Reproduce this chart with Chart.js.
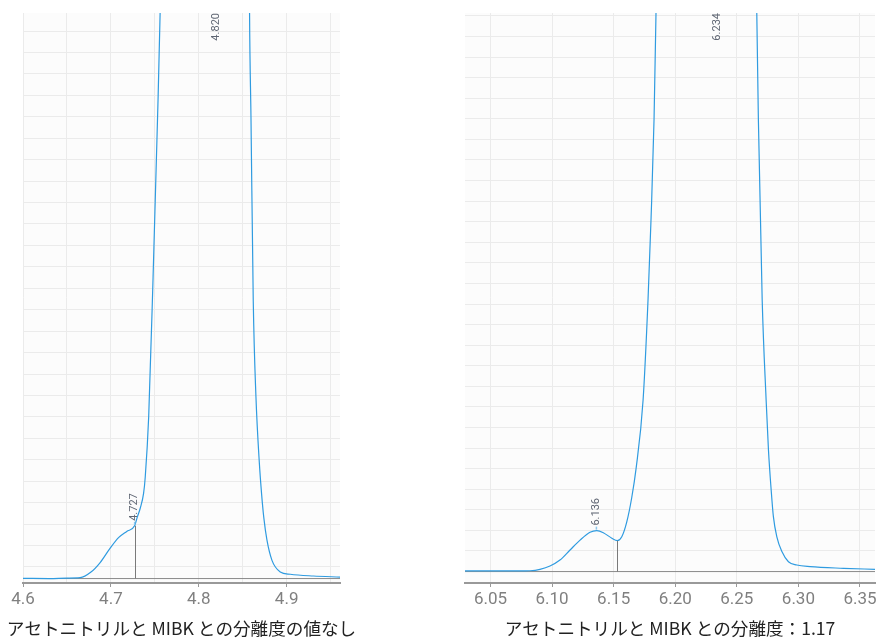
<!DOCTYPE html>
<html>
<head>
<meta charset="utf-8">
<script src="https://cdn.jsdelivr.net/npm/chart.js@4.4.1/dist/chart.umd.min.js"></script>
<style>
  html, body { margin: 0; padding: 0; background: #fff; overflow: hidden; }
  #wrap { position: relative; width: 879px; height: 639px; overflow: hidden; }
  #leftChart { position: absolute; left: 0; top: 0; }
  #rightChart { position: absolute; left: 430px; top: 0; }
</style>
</head>
<body>
<div id="wrap">
  <canvas id="leftChart" width="370" height="639"></canvas>
  <canvas id="rightChart" width="470" height="639"></canvas>
</div>
<script>
// --- left chromatogram (no resolution value) ---
const leftTitle = "アセトニトリルと MIBK との分離度の値なし";
const leftTimes = [4.600, 4.630, 4.650, 4.665, 4.677, 4.688, 4.699, 4.709, 4.718, 4.727,
  4.7296, 4.7334, 4.7372, 4.7391, 4.743, 4.748, 4.753, 4.756, 4.760, 4.770,
  4.780, 4.790, 4.800, 4.810, 4.820, 4.830, 4.840, 4.850, 4.855, 4.8578,
  4.8594, 4.862, 4.865, 4.869, 4.8715, 4.874, 4.8776, 4.8833, 4.8927, 4.9041,
  4.9303, 4.961];
const leftSignal = [4.7, 4.6, 4.8, 5.0, 7.5, 12.2, 18.7, 23.8, 26.6, 29.2,
  32.7, 37.4, 44.3, 52, 80, 145, 218, 268, 380, 700,
  1100, 1450, 1700, 1850, 1900, 1850, 1600, 1000, 500, 268,
  220, 134, 90, 58, 44, 33, 22.5, 13.1, 7.7, 6.6,
  5.8, 5.3];
const leftBaseline = 4.6;
const leftPeakTimes = [4.727, 4.820];
const leftPeakHeights = [29.2, 1900];
const leftDropTimes = [4.727];
const leftDropHeights = [29.2];
const leftXRange = [4.6, 4.9607];
const leftYRange = [2.53, 268.4];

// --- right chromatogram (resolution 1.17) ---
const rightTitle = "アセトニトリルと MIBK との分離度：1.17";
const rightTimes = [6.0293, 6.0496, 6.074, 6.0821, 6.0902, 6.0983, 6.1064, 6.1146, 6.1227, 6.1308,
  6.1363, 6.1416, 6.1485, 6.153, 6.1566, 6.1606, 6.1647, 6.1682, 6.1739, 6.1779,
  6.1804, 6.1828, 6.1844, 6.190, 6.200, 6.210, 6.220, 6.234, 6.245, 6.255,
  6.262, 6.2662, 6.2675, 6.2706, 6.2738, 6.2757, 6.2779, 6.2797, 6.2825, 6.2866,
  6.2919, 6.2987, 6.3095, 6.3366, 6.3622];
const rightSignal = [0.3, 0.3, 0.3, 0.4, 1.1, 2.7, 5.6, 10.5, 15.3, 19.1,
  19.9, 18.9, 16.2, 15.0, 16.9, 24, 36, 50, 83.4, 132,
  172, 219.9, 272, 400, 800, 1200, 1500, 1650, 1550, 1100,
  500, 272, 219.9, 132, 83.4, 59.1, 39.6, 26.7, 16.9, 9.7,
  4.8, 3.2, 2.4, 1.6, 1.1];
const rightBaseline = 0;
const rightPeakTimes = [6.136, 6.234];
const rightPeakHeights = [19.9, 1650];
const rightDropTimes = [6.153];
const rightDropHeights = [15.0];
const rightXRange = [6.0293, 6.3622];
const rightYRange = [-5.55, 271.4];

const LINE_COLOR = "#2f9be0";
const GRID_COLOR = "#ebebeb";

function isMultiple(v, step) {
  var r = v / step;
  return Math.abs(r - Math.round(r)) < 1e-6;
}

const areaFillPlugin = {
  id: "areaFill",
  beforeDraw: function (chart) {
    const a = chart.chartArea;
    const ctx = chart.ctx;
    ctx.save();
    ctx.fillStyle = "#fcfcfc";
    ctx.fillRect(a.left, a.top, a.right - a.left, a.bottom - a.top);
    ctx.restore();
  },
};

// caption under the axis; drawn by hand so it is not squeezed to the plot width
const captionPlugin = {
  id: "caption",
  afterDraw: function (chart, args, opts) {
    const a = chart.chartArea;
    const ctx = chart.ctx;
    ctx.save();
    ctx.font = "17.6px 'Noto Sans CJK JP'";
    ctx.fillStyle = "#222";
    ctx.textAlign = "center";
    ctx.textBaseline = "middle";
    ctx.fillText(opts.text, (a.left + a.right) / 2, chart.height - 10.5);
    ctx.restore();
  },
};

const peakPlugin = {
  id: "peakMarks",
  afterDatasetsDraw: function (chart, args, opts) {
    const ctx = chart.ctx;
    const xs = chart.scales.x;
    const ys = chart.scales.y;
    const a = chart.chartArea;

    // drop lines from the curve down to the baseline
    ctx.save();
    ctx.strokeStyle = "#7a7a7a";
    ctx.lineWidth = 1;
    opts.dropTimes.forEach(function (t, i) {
      const px = Math.round(xs.getPixelForValue(t)) + 0.5;
      ctx.beginPath();
      ctx.moveTo(px, ys.getPixelForValue(opts.dropHeights[i]));
      ctx.lineTo(px, ys.getPixelForValue(opts.baseline));
      ctx.stroke();
    });
    ctx.restore();

    // rotated retention time labels
    ctx.save();
    ctx.font = "11px Roboto";
    ctx.textAlign = "left";
    ctx.textBaseline = "middle";
    opts.peakTimes.forEach(function (t, i) {
      const label = t.toFixed(3);
      const w = ctx.measureText(label).width;
      const px = xs.getPixelForValue(t);
      const apex = ys.getPixelForValue(opts.peakHeights[i]);
      let start = apex - 5;
      if (start - w < a.top) start = a.top + w;

      if (apex > a.top) {
        ctx.strokeStyle = "#8cc8ee";
        ctx.lineWidth = 1.5;
        ctx.beginPath();
        ctx.moveTo(px, apex - 1);
        ctx.lineTo(px, apex - 4);
        ctx.stroke();
      }

      ctx.save();
      ctx.translate(px, start);
      ctx.rotate(-Math.PI / 2);
      ctx.fillStyle = "#5f6673";
      ctx.fillText(label, 0, 0);
      ctx.restore();
    });
    ctx.restore();
  },
};

function toPoints(xs, ys) {
  return xs.map(function (x, i) {
    return { x: x, y: ys[i] };
  });
}

function makeChart(canvasId, cfg) {
  const canvas = document.getElementById(canvasId);
  return new Chart(canvas.getContext("2d"), {
    type: "line",
    data: {
      datasets: [
        {
          data: toPoints(cfg.times, cfg.signal),
          borderColor: LINE_COLOR,
          borderWidth: 1.2,
          pointRadius: 0,
          fill: false,
          cubicInterpolationMode: "monotone",
        },
        {
          data: [
            { x: cfg.xRange[0], y: cfg.baseline },
            { x: cfg.xRange[1], y: cfg.baseline },
          ],
          borderColor: "#8a8a8a",
          borderWidth: 1,
          pointRadius: 0,
          fill: false,
        },
      ],
    },
    plugins: [areaFillPlugin, peakPlugin, captionPlugin],
    options: {
      responsive: false,
      animation: false,
      layout: { padding: cfg.padding },
      plugins: {
        legend: { display: false },
        tooltip: { enabled: false },
        caption: { text: cfg.title },
        peakMarks: {
          peakTimes: cfg.peakTimes,
          peakHeights: cfg.peakHeights,
          dropTimes: cfg.dropTimes,
          dropHeights: cfg.dropHeights,
          baseline: cfg.baseline,
        },
      },
      scales: {
        x: {
          type: "linear",
          min: cfg.xRange[0],
          max: cfg.xRange[1],
          afterBuildTicks: function (axis) {
            axis.ticks = axis.ticks.filter(function (t) {
              return isMultiple(t.value, 0.05);
            });
          },
          afterFit: function (axis) {
            axis.height = 56;
          },
          ticks: {
            stepSize: 0.05,
            includeBounds: false,
            autoSkip: false,
            maxRotation: 0,
            padding: 3,
            color: "#808080",
            font: { family: "Roboto", size: 17 },
            callback: function (v) {
              if (isMultiple(v, cfg.labelStep)) return v.toFixed(cfg.digits);
              return "";
            },
          },
          grid: {
            color: GRID_COLOR,
            tickLength: 4,
            tickColor: function (c) {
              return c.tick && isMultiple(c.tick.value, cfg.labelStep) ? "#999" : "rgba(0,0,0,0)";
            },
          },
          border: { color: "#999", width: 2 },
        },
        y: {
          type: "linear",
          min: cfg.yRange[0],
          max: cfg.yRange[1],
          afterBuildTicks: function (axis) {
            axis.ticks = axis.ticks.filter(function (t) {
              return isMultiple(t.value, 10);
            });
          },
          afterFit: function (axis) {
            axis.width = 0;
          },
          ticks: { display: false, stepSize: 10, includeBounds: false },
          grid: { color: GRID_COLOR, drawTicks: false },
          border: { display: false },
        },
      },
    },
  });
}

makeChart("leftChart", {
  title: leftTitle,
  times: leftTimes,
  signal: leftSignal,
  baseline: leftBaseline,
  peakTimes: leftPeakTimes,
  peakHeights: leftPeakHeights,
  dropTimes: leftDropTimes,
  dropHeights: leftDropHeights,
  xRange: leftXRange,
  yRange: leftYRange,
  labelStep: 0.1,
  digits: 1,
  padding: { left: 23, right: 30, top: 13, bottom: 0 },
});

makeChart("rightChart", {
  title: rightTitle,
  times: rightTimes,
  signal: rightSignal,
  baseline: rightBaseline,
  peakTimes: rightPeakTimes,
  peakHeights: rightPeakHeights,
  dropTimes: rightDropTimes,
  dropHeights: rightDropHeights,
  xRange: rightXRange,
  yRange: rightYRange,
  labelStep: 0.05,
  digits: 2,
  padding: { left: 35, right: 25, top: 13, bottom: 0 },
});
</script>
</body>
</html>
